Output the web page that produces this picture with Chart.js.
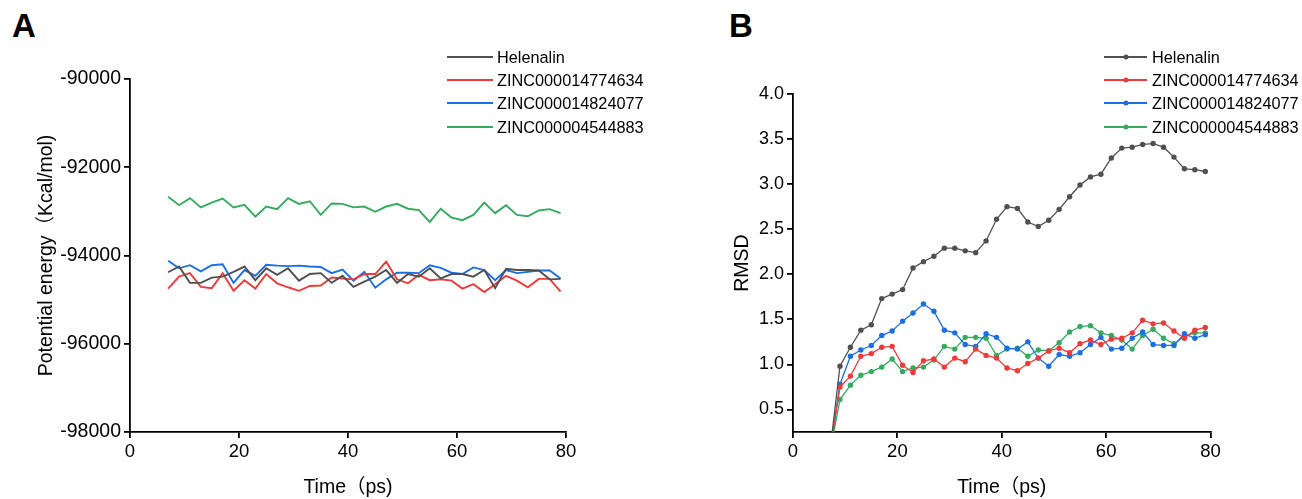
<!DOCTYPE html>
<html>
<head>
<meta charset="utf-8">
<script src="https://cdn.jsdelivr.net/npm/chart.js@4.4.1/dist/chart.umd.min.js"></script>
<style>
  body { margin: 0; background: #fff; width: 1302px; height: 499px; overflow: hidden; position: relative;
         font-family: "Liberation Sans", Arial, "Noto Sans CJK SC", sans-serif; }
  .panel { position: absolute; top: 0; }
  .tag { position: absolute; top: 9px; font-size: 33px; font-weight: bold; line-height: 33px; color: #000; }
  .legend { position: absolute; }
  .row { position: absolute; left: 0; height: 20px; display: flex; align-items: center; white-space: nowrap;
         font-size: 16.3px; color: #000; }
  .sample { position: relative; height: 2px; }
  .dot { position: absolute; left: 50%; top: 50%; width: 5px; height: 5px; border-radius: 50%; transform: translate(-50%, -50%); }
</style>
</head>
<body>
<div class="tag" style="left:12px">A</div>
<div class="tag" style="left:729px">B</div>
<div class="panel" style="left:0"><canvas id="energy" width="660" height="499"></canvas></div>
<div class="panel" style="left:660px"><canvas id="rmsd" width="642" height="499"></canvas></div>
<div class="legend" id="legendA" style="left:447px;top:0"></div>
<div class="legend" id="legendB" style="left:1104px;top:0"></div>
<script>
const seriesNames = ['Helenalin', 'ZINC000014774634', 'ZINC000014824077', 'ZINC000004544883'];
const seriesColors = ['#505050', '#ee3a3a', '#1c6fe3', '#36ab60'];

// time (ps)
const timeA = [7, 9, 11, 13, 15, 17, 19, 21, 23, 25, 27, 29, 31, 33, 35, 37, 39, 41, 43, 45, 47, 49, 51, 53, 55, 57, 59, 61, 63, 65, 67, 69, 71, 73, 75, 77, 79];
const timeB = [7, 9, 11, 13, 15, 17, 19, 21, 23, 25, 27, 29, 31, 33, 35, 37, 39, 41, 43, 45, 47, 49, 51, 53, 55, 57, 59, 61, 63, 65, 67, 69, 71, 73, 75, 77, 79];

// potential energy (Kcal/mol)
const helenalinE = [-94380, -94250, -94620, -94620, -94500, -94480, -94370, -94250, -94560, -94290, -94440, -94290, -94570, -94420, -94400, -94620, -94460, -94710, -94590, -94480, -94330, -94620, -94420, -94480, -94290, -94520, -94420, -94420, -94480, -94330, -94740, -94300, -94330, -94330, -94340, -94540, -94530];
const zinc634E = [-94750, -94480, -94400, -94710, -94740, -94400, -94800, -94560, -94750, -94420, -94630, -94720, -94800, -94690, -94680, -94500, -94520, -94540, -94420, -94420, -94140, -94540, -94630, -94440, -94560, -94540, -94570, -94750, -94650, -94830, -94650, -94460, -94570, -94720, -94530, -94530, -94820];
const zinc077E = [-94120, -94290, -94220, -94360, -94220, -94200, -94620, -94330, -94460, -94210, -94230, -94240, -94230, -94250, -94260, -94400, -94320, -94570, -94370, -94730, -94540, -94390, -94390, -94400, -94220, -94280, -94390, -94420, -94270, -94330, -94560, -94330, -94400, -94370, -94340, -94340, -94520];
const zinc883E = [-92670, -92860, -92700, -92910, -92800, -92710, -92910, -92850, -93120, -92890, -92950, -92700, -92830, -92770, -93080, -92820, -92830, -92910, -92890, -93010, -92890, -92830, -92940, -92970, -93240, -92940, -93140, -93200, -93080, -92800, -93040, -92860, -93080, -93110, -92980, -92950, -93040];

// RMSD
const helenalinR = [0, 0.98, 1.19, 1.38, 1.44, 1.73, 1.78, 1.83, 2.07, 2.14, 2.20, 2.29, 2.29, 2.26, 2.24, 2.37, 2.61, 2.75, 2.73, 2.58, 2.53, 2.60, 2.72, 2.86, 2.99, 3.08, 3.11, 3.29, 3.40, 3.41, 3.44, 3.45, 3.41, 3.30, 3.17, 3.16, 3.14];
const zinc634R = [0, 0.75, 0.87, 1.09, 1.12, 1.19, 1.20, 0.99, 0.91, 1.04, 1.06, 0.97, 1.07, 1.03, 1.17, 1.10, 1.07, 0.96, 0.93, 1.01, 1.07, 1.15, 1.18, 1.13, 1.23, 1.27, 1.22, 1.28, 1.29, 1.35, 1.49, 1.45, 1.46, 1.37, 1.29, 1.38, 1.41];
const zinc077R = [0, 0.78, 1.09, 1.16, 1.21, 1.32, 1.37, 1.48, 1.57, 1.67, 1.59, 1.38, 1.35, 1.22, 1.20, 1.34, 1.30, 1.18, 1.17, 1.25, 1.07, 0.98, 1.11, 1.09, 1.13, 1.22, 1.30, 1.17, 1.18, 1.29, 1.36, 1.22, 1.21, 1.21, 1.34, 1.29, 1.33];
const zinc883R = [0, 0.61, 0.77, 0.88, 0.92, 0.97, 1.06, 0.92, 0.96, 0.97, 1.05, 1.20, 1.17, 1.30, 1.30, 1.29, 1.10, 1.17, 1.18, 1.09, 1.16, 1.15, 1.24, 1.36, 1.42, 1.43, 1.35, 1.32, 1.27, 1.17, 1.32, 1.39, 1.29, 1.23, 1.31, 1.35, 1.35];

const xTicks = [0, 20, 40, 60, 80];
const yTicksA = [-98000, -96000, -94000, -92000, -90000];
const yTicksB = [0.5, 1.0, 1.5, 2.0, 2.5, 3.0, 3.5, 4.0];

const FONT = '"Liberation Sans", Arial, "Noto Sans CJK SC", sans-serif';

function toPoints(xs, ys) {
    return ys.map((y, i) => ({ x: xs[i], y: y }));
}

function axis(extra, tickSize) {
    const base = {
        type: 'linear',
        grid: { drawOnChartArea: false, drawTicks: true, tickLength: 6, color: '#000', lineWidth: 1.8 },
        border: { display: true, color: '#000', width: 1.8 },
        ticks: { color: '#000', padding: 3, font: { family: FONT, size: tickSize } },
        title: { display: true, color: '#000', font: { family: FONT, size: 19.5 } },
    };
    return Object.assign(base, extra, {
        ticks: Object.assign(base.ticks, extra.ticks || {}),
        title: Object.assign(base.title, extra.title || {}),
    });
}

const energySets = [helenalinE, zinc634E, zinc077E, zinc883E];
const energyChart = new Chart(document.getElementById('energy').getContext('2d'), {
    type: 'line',
    data: {
        datasets: energySets.map((vals, i) => ({
            label: seriesNames[i],
            data: toPoints(timeA, vals),
            borderColor: seriesColors[i],
            backgroundColor: seriesColors[i],
            borderWidth: 1.9,
            pointRadius: 0,
            tension: 0,
        })),
    },
    options: {
        responsive: false,
        animation: false,
        layout: { padding: { left: 0, top: 79, right: 94, bottom: 0 } },
        plugins: { legend: { display: false }, tooltip: { enabled: false } },
        scales: {
            x: axis({
                min: 0, max: 80,
                afterBuildTicks: s => { s.ticks = xTicks.map(v => ({ value: v })); },
                title: { text: 'Time（ps)', padding: { top: 0, bottom: 0 } },
                afterFit: s => { s.height = 67; },
            }, 18.5),
            y: axis({
                min: -98000, max: -90000,
                afterBuildTicks: s => { s.ticks = yTicksA.map(v => ({ value: v })); },
                ticks: { callback: v => String(v) },
                title: { text: 'Potential energy（Kcal/mol)', padding: { top: 35, bottom: 0 } },
                afterFit: s => { s.width = 130; },
            }, 19.5),
        },
    },
});

const rmsdSets = [helenalinR, zinc634R, zinc077R, zinc883R];
const rmsdChart = new Chart(document.getElementById('rmsd').getContext('2d'), {
    type: 'line',
    data: {
        datasets: rmsdSets.map((vals, i) => ({
            label: seriesNames[i],
            data: toPoints(timeB, vals),
            borderColor: seriesColors[i],
            backgroundColor: seriesColors[i],
            borderWidth: 1.3,
            pointRadius: 2.7,
            pointBorderWidth: 0,
            tension: 0,
        })),
    },
    options: {
        responsive: false,
        animation: false,
        layout: { padding: { left: 0, top: 94, right: 91.5, bottom: 0 } },
        plugins: { legend: { display: false }, tooltip: { enabled: false } },
        scales: {
            x: axis({
                min: 0, max: 80,
                afterBuildTicks: s => { s.ticks = xTicks.map(v => ({ value: v })); },
                title: { text: 'Time（ps)', padding: { top: 0, bottom: 0 } },
                afterFit: s => { s.height = 67; },
            }, 18.5),
            y: axis({
                min: 0.25, max: 4.0,
                afterBuildTicks: s => { s.ticks = yTicksB.map(v => ({ value: v })); },
                ticks: { callback: v => Number(v).toFixed(1) },
                title: { text: 'RMSD', padding: { top: 71, bottom: 0 } },
                afterFit: s => { s.width = 133; },
            }, 18),
        },
    },
});

// html legends built from the chart datasets
function buildLegend(chart, el, sampleWidth, gap, withDot) {
    chart.data.datasets.forEach((ds, i) => {
        const row = document.createElement('div');
        row.className = 'row';
        row.style.top = Math.round(47 + i * 23.2) + 'px';
        const sample = document.createElement('span');
        sample.className = 'sample';
        sample.style.width = sampleWidth + 'px';
        sample.style.height = withDot ? '1.5px' : '2px';
        sample.style.background = ds.borderColor;
        sample.style.marginRight = gap + 'px';
        if (withDot) {
            const dot = document.createElement('span');
            dot.className = 'dot';
            dot.style.background = ds.borderColor;
            sample.appendChild(dot);
        }
        const label = document.createElement('span');
        label.textContent = ds.label;
        row.appendChild(sample);
        row.appendChild(label);
        el.appendChild(row);
    });
}
buildLegend(energyChart, document.getElementById('legendA'), 46, 4, false);
buildLegend(rmsdChart, document.getElementById('legendB'), 43, 5, true);
</script>
</body>
</html>
